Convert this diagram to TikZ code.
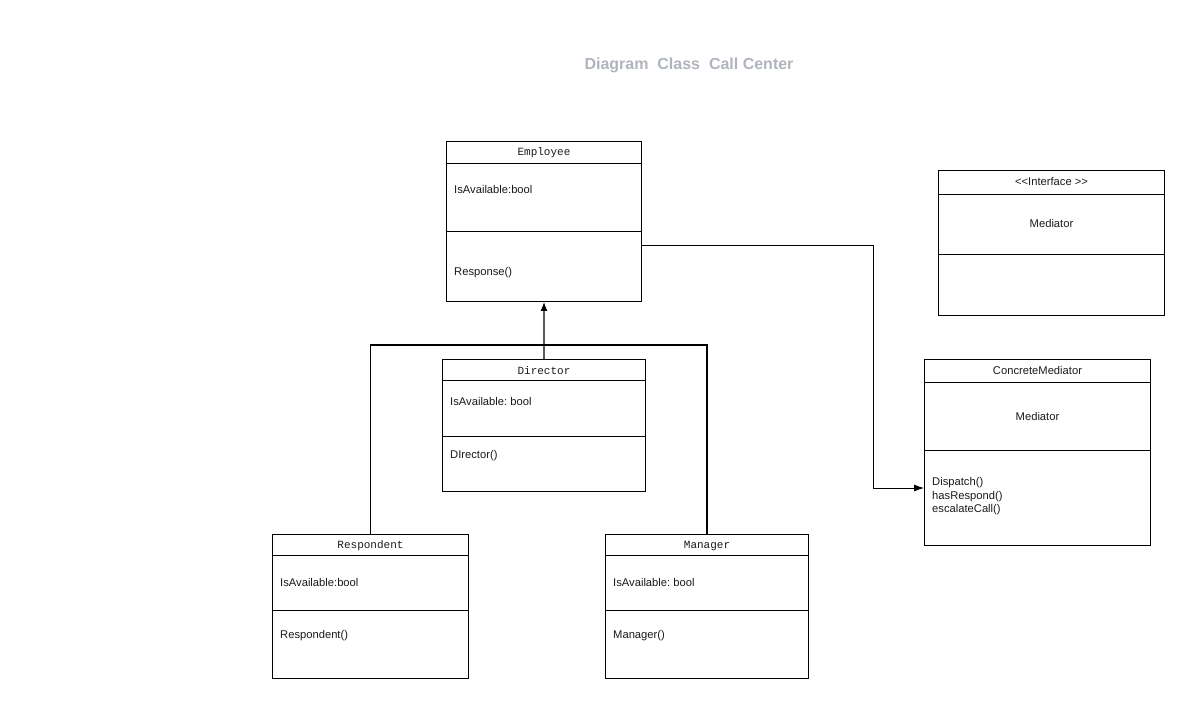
\documentclass[tikz,border=0pt]{standalone}
\usepackage{fontspec}
\setmainfont{Liberation Sans}
\setmonofont{Liberation Mono}
\usetikzlibrary{calc}
\usetikzlibrary{arrows.meta}
\definecolor{titlegray}{HTML}{B0B4BC}
\definecolor{inkgray}{HTML}{1A1A1A}
\frenchspacing
\tikzset{
  classbox/.style={draw, line width=1pt, anchor=north west, inner sep=0pt},
  sep/.style={line width=0.8pt},
  cname/.style={font=\ttfamily\fontsize{11bp}{13bp}\selectfont, text=inkgray},
  ctext/.style={anchor=west, inner sep=0pt, font=\fontsize{11.2bp}{13.5bp}\selectfont, text=inkgray},
  link/.style={line width=1.2pt}
}

\begin{document}
\begin{tikzpicture}[x=1bp, y=-1bp]
            \useasboundingbox (0,0) rectangle (1189,703);
            \node[font=\bfseries\fontsize{16bp}{19bp}\selectfont, text=titlegray] (title) at (689,65) {Diagram\ \ Class\ \ Call Center};

            % Employee
            \node[classbox, minimum width=195bp, minimum height=160bp] (emp) at (446,141) {};
            \draw[sep] (emp.west |- 0,163) -- (emp.east |- 0,163);
            \draw[sep] (emp.west |- 0,231) -- (emp.east |- 0,231);
            \node[cname] (emp-n) at (emp.north |- 0,153) {Employee};
            \node[ctext] (emp-a) at (454,189) {IsAvailable:bool};
            \node[ctext] (emp-m) at (454,273) {Response()};

            % Director
            \node[classbox, minimum width=203bp, minimum height=132bp] (dir) at (442,359) {};
            \draw[sep] (dir.west |- 0,380) -- (dir.east |- 0,380);
            \draw[sep] (dir.west |- 0,436) -- (dir.east |- 0,436);
            \node[cname] (dir-n) at (dir.north |- 0,371) {Director};
            \node[ctext] (dir-a) at (450,401) {IsAvailable: bool};
            \node[ctext] (dir-m) at (450,456) {DIrector()};

            % Respondent
            \node[classbox, minimum width=196bp, minimum height=144bp] (resp) at (272,534) {};
            \draw[sep] (resp.west |- 0,555) -- (resp.east |- 0,555);
            \draw[sep] (resp.west |- 0,610) -- (resp.east |- 0,610);
            \node[cname] (resp-n) at (resp.north |- 0,546) {Respondent};
            \node[ctext] (resp-a) at (280,582) {IsAvailable:bool};
            \node[ctext] (resp-m) at (280,636) {Respondent()};

            % Manager
            \node[classbox, minimum width=203bp, minimum height=144bp] (mgr) at (605,534) {};
            \draw[sep] (mgr.west |- 0,555) -- (mgr.east |- 0,555);
            \draw[sep] (mgr.west |- 0,610) -- (mgr.east |- 0,610);
            \node[cname] (mgr-n) at (mgr.north |- 0,546) {Manager};
            \node[ctext] (mgr-a) at (613,582) {IsAvailable: bool};
            \node[ctext] (mgr-m) at (613,636) {Manager()};

            % Interface
            \node[classbox, minimum width=226bp, minimum height=145bp] (iface) at (938,170) {};
            \draw[sep] (iface.west |- 0,194) -- (iface.east |- 0,194);
            \draw[sep] (iface.west |- 0,254) -- (iface.east |- 0,254);
            \node[ctext, anchor=center] (iface-n) at (iface.north |- 0,182) {\textless\kern0pt\textless Interface \textgreater\kern0pt\textgreater};
            \node[ctext, anchor=center] (iface-a) at (iface.north |- 0,223) {Mediator};

            % ConcreteMediator
            \node[classbox, minimum width=226bp, minimum height=186bp] (cmed) at (924,359) {};
            \draw[sep] (cmed.west |- 0,382) -- (cmed.east |- 0,382);
            \draw[sep] (cmed.west |- 0,450) -- (cmed.east |- 0,450);
            \node[ctext, anchor=center] (cmed-n) at (cmed.north |- 0,370) {ConcreteMediator};
            \node[ctext, anchor=center] (cmed-a) at (cmed.north |- 0,416) {Mediator};
            \node[ctext, align=left] (cmed-m) at (932,496.5) {Dispatch()\\hasRespond()\\escalateCall()};

            % connectors
            \coordinate (join) at (544,345);
            \coordinate (bend) at (873,245);
            \draw[link] (resp.north) |- (join) -| (mgr.north);
            \draw[link, -{Latex[length=9bp, width=7bp]}] (dir.north) -- (emp.south);
            \draw[line width=0.8pt, -{Latex[length=10bp, width=7bp]}] (emp.east |- bend) -- (bend) |- (cmed.west |- 0,488);
        \end{tikzpicture}
\end{document}
